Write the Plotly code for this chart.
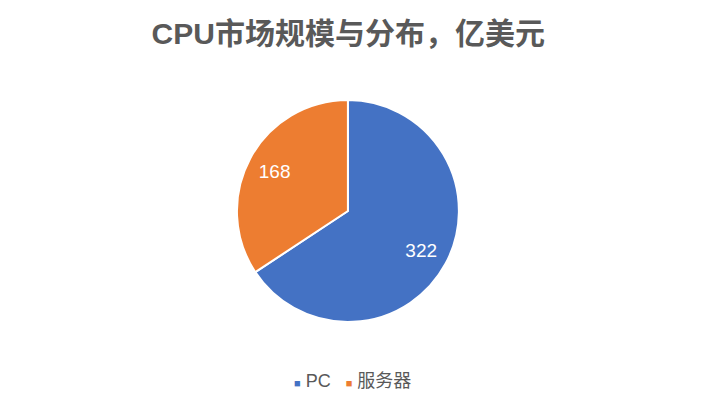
import plotly.graph_objects as go

labels = ["PC", "服务器"]
values = [322, 168]
colors = ["#4472C4", "#ED7D31"]

font_name = "Liberation Sans, Noto Sans CJK SC, sans-serif"
pie_domain = dict(x=[0.336, 0.651], y=[0.205, 0.753])

fig = go.Figure()
# the slices themselves
fig.add_trace(go.Pie(
    labels=labels, values=values,
    sort=False, direction="clockwise", rotation=0,
    marker=dict(colors=colors, line=dict(color="white", width=2)),
    textinfo="none", hoverinfo="label+value",
    domain=pie_domain, showlegend=False,
))
# same data as a ring on top, only to push the value labels outward
fig.add_trace(go.Pie(
    labels=labels, values=values, hole=0.5,
    sort=False, direction="clockwise", rotation=0,
    marker=dict(colors=["rgba(0,0,0,0)"] * 2, line=dict(width=0)),
    textinfo="value", textposition="inside", insidetextorientation="horizontal",
    insidetextfont=dict(color="white", size=19, family=font_name),
    domain=pie_domain, showlegend=False, hoverinfo="skip",
))

# compact legend like the original (small square right next to the name)
legend_text = "&nbsp;&nbsp;&nbsp;".join(
    '<span style="color:{};font-size:11px">■</span> {}'.format(c, n)
    for n, c in zip(labels, colors))
fig.add_annotation(text=legend_text, x=0.5, y=0.059, xref="paper", yref="paper",
                   xanchor="center", yanchor="middle", showarrow=False,
                   font=dict(size=18, color="#595959", family=font_name))

fig.update_layout(
    width=705, height=405,
    margin=dict(l=0, r=0, t=0, b=0),
    paper_bgcolor="white", plot_bgcolor="white",
    title=dict(text="<b>CPU市场规模与分布，亿美元</b>", x=0.494, xanchor="center",
               y=0.918, yanchor="middle",
               font=dict(size=30, color="#595959", family=font_name)),
    showlegend=False,
    font=dict(family=font_name),
)

fig.write_html("out.html", post_script="document.body.style.margin='0';",
               config={"displayModeBar": False})
